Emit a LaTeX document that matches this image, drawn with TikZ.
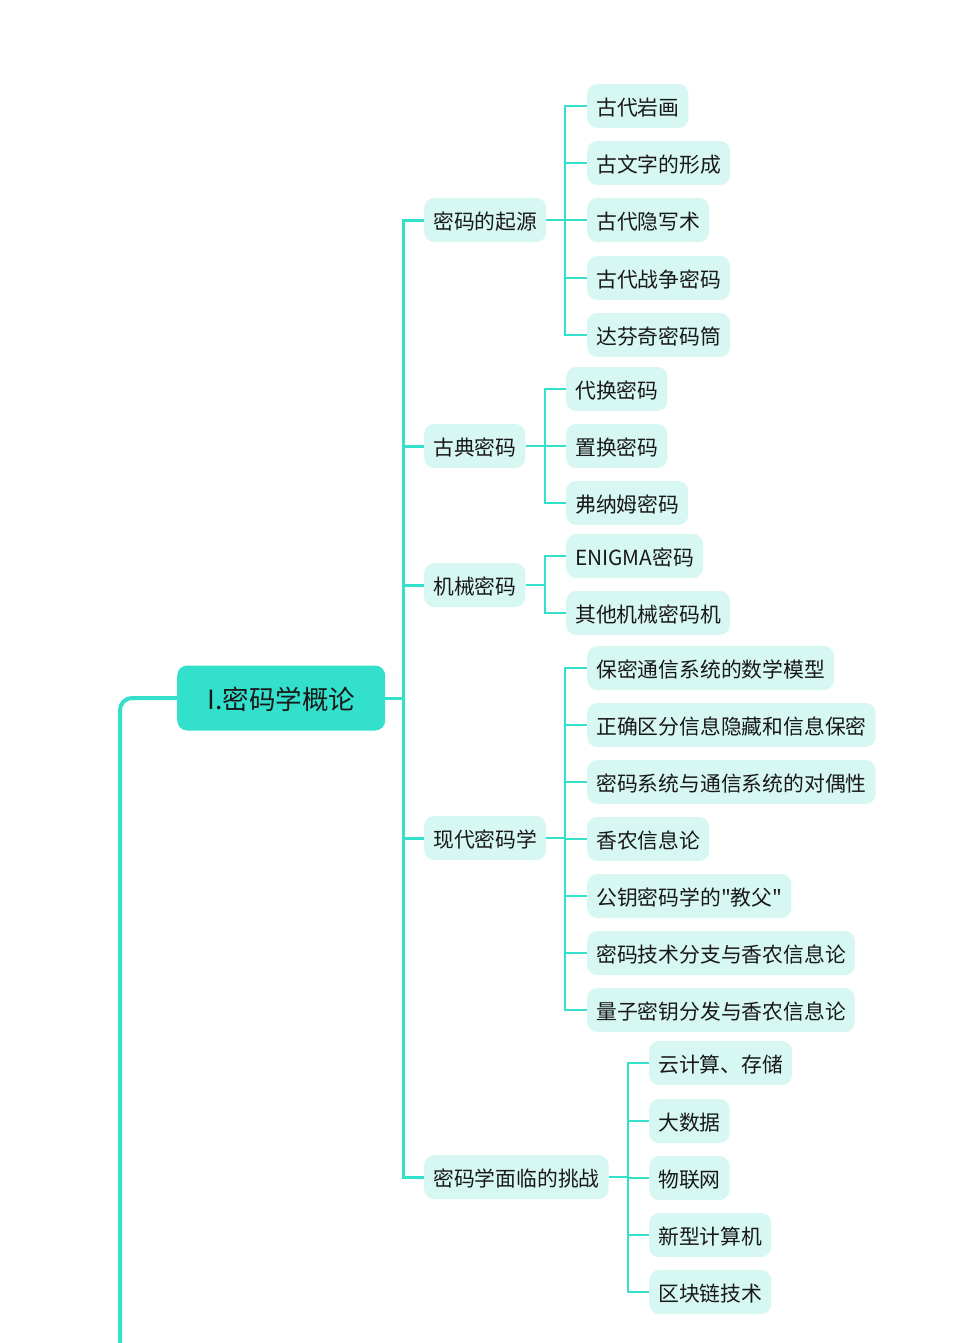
\documentclass[tikz,border=0pt]{standalone}
\usepackage{fontspec}
\setmainfont{Noto Sans CJK SC}[Ligatures=TeXOff]
\usetikzlibrary{positioning}
\definecolor{acc}{RGB}{51,224,204}
\definecolor{accfill}{RGB}{214,247,242}
\colorlet{txt}{black!90}
\tikzset{
  every node/.style={font=\fontsize{20.8}{24}\selectfont,text=txt},
  bx/.style={fill=accfill,rounded corners=10pt,inner xsep=9pt,inner ysep=0pt,minimum height=44pt,text height=19.6pt,text depth=1.2pt,anchor=west},
  topic/.style={bx,fill=acc,font=\fontsize{26.5}{30}\selectfont,minimum height=65pt,minimum width=208pt,text height=24.8pt,text depth=1.7pt},
  trunk/.style={acc,line width=3pt},
  twig/.style={acc,line width=2pt},
  spine/.style={acc,line width=4pt,rounded corners=12pt},
}
\begin{document}
\begin{tikzpicture}[x=1pt,y=-1pt]
  \useasboundingbox (0,0) rectangle (956,1343);

  % central topic
  \node[topic] (root) at (177,698) {I.密码学概论};
  \coordinate (btm) at (120,1343);

  % main branches
  \node[bx] (qy) at (424,220)  {密码的起源};
  \node[bx] (gd) at (424,446)  {古典密码};
  \node[bx] (jx) at (424,585)  {机械密码};
  \node[bx] (xd) at (424,838)  {现代密码学};
  \node[bx] (tz) at (424,1177) {密码学面临的挑战};

  % origin
  \node[bx] (qy1) at (587,106) {古代岩画};
  \node[bx] (qy2) at (587,163) {古文字的形成};
  \node[bx] (qy3) at (587,220) {古代隐写术};
  \node[bx] (qy4) at (587,278) {古代战争密码};
  \node[bx] (qy5) at (587,335) {达芬奇密码筒};

  % classical
  \node[bx] (gd1) at (566,389) {代换密码};
  \node[bx] (gd2) at (566,446) {置换密码};
  \node[bx] (gd3) at (566,503) {弗纳姆密码};

  % mechanical
  \node[bx] (jx1) at (566,556) {ENIGMA密码};
  \node[bx] (jx2) at (566,613) {其他机械密码机};

  % modern
  \node[bx] (xd1) at (587,668)  {保密通信系统的数学模型};
  \node[bx] (xd2) at (587,725)  {正确区分信息隐藏和信息保密};
  \node[bx] (xd3) at (587,782)  {密码系统与通信系统的对偶性};
  \node[bx] (xd4) at (587,839)  {香农信息论};
  \node[bx] (xd5) at (587,896)  {公钥密码学的"教父"};
  \node[bx] (xd6) at (587,953)  {密码技术分支与香农信息论};
  \node[bx] (xd7) at (587,1010) {量子密钥分发与香农信息论};

  % challenges
  \node[bx] (tz1) at (649,1063) {云计算、存储};
  \node[bx] (tz2) at (649,1121) {大数据};
  \node[bx] (tz3) at (649,1178) {物联网};
  \node[bx] (tz4) at (649,1235) {新型计算机};
  \node[bx] (tz5) at (649,1292) {区块链技术};

  % connectors
  \draw[spine] (btm) |- (root.west);
  \foreach \n in {qy,gd,jx,xd,tz}
    \draw[trunk] (root.east) -- ++(18,0) |- (\n.west);
  \foreach \n/\k in {qy/5,gd/3,jx/2,xd/7,tz/5}{
    \foreach \i in {1,...,\k}
      \draw[twig] (\n.east) -- ++(19,0) |- (\n\i.west);
  }
\end{tikzpicture}
\end{document}
